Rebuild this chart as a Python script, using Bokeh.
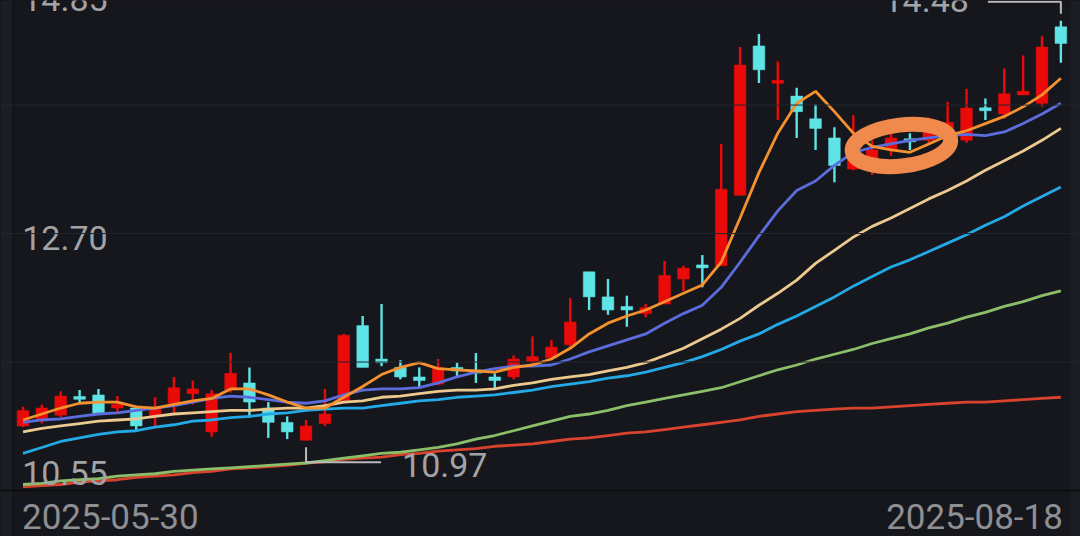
import numpy as np
from bokeh.plotting import figure
from bokeh.models import Range1d, Span, BoxAnnotation, ColumnDataSource, GlobalInlineStyleSheet
from bokeh.core.properties import value
from bokeh.embed import file_html
from bokeh.resources import INLINE

# ---------------- data ----------------
date_labels = ["2025-05-30", "2025-08-18"]

opens = [11.09, 11.14, 11.18, 11.33, 11.35, 11.24, 11.24, 11.17, 11.28, 11.36,
         11.04, 11.39, 11.45, 11.24, 11.12, 10.97, 11.11, 11.30, 11.93, 11.65,
         11.58, 11.50, 11.44, 11.58, 11.55, 11.50, 11.50, 11.63, 11.66, 11.77,
         12.38, 12.17, 12.09, 12.03, 12.11, 12.32, 12.43, 12.43, 13.02, 14.27,
         13.96, 13.85, 13.66, 13.50, 13.24, 13.27, 13.40, 13.49, 13.48, 13.54,
         13.48, 13.75, 13.70, 13.86, 13.79, 14.43]
highs = [11.25, 11.27, 11.38, 11.39, 11.40, 11.34, 11.26, 11.33, 11.50, 11.47,
         11.39, 11.70, 11.58, 11.29, 11.17, 11.14, 11.40, 11.86, 12.01, 12.11,
         11.64, 11.58, 11.65, 11.62, 11.70, 11.53, 11.68, 11.84, 11.81, 12.16,
         12.38, 12.32, 12.18, 12.11, 12.47, 12.43, 12.52, 13.45, 14.26, 14.37,
         14.14, 13.92, 13.78, 13.59, 13.69, 13.48, 13.54, 13.54, 13.67, 13.80,
         13.91, 13.83, 14.08, 14.19, 14.35, 14.48]
lows = [11.08, 11.11, 11.16, 11.28, 11.19, 11.20, 11.05, 11.09, 11.20, 11.27,
        11.00, 11.37, 11.16, 10.99, 10.98, 10.97, 11.09, 11.29, 11.58, 11.59,
        11.48, 11.41, 11.43, 11.50, 11.45, 11.40, 11.48, 11.61, 11.64, 11.75,
        12.06, 12.02, 11.92, 12.00, 12.11, 12.22, 12.25, 12.43, 13.02, 13.96,
        13.65, 13.50, 13.40, 13.13, 13.23, 13.19, 13.35, 13.40, 13.44, 13.52,
        13.46, 13.65, 13.66, 13.86, 13.76, 14.13]
closes = [11.22, 11.24, 11.34, 11.32, 11.19, 11.27, 11.09, 11.24, 11.41, 11.40,
          11.36, 11.53, 11.29, 11.12, 11.04, 11.09, 11.19, 11.85, 11.58, 11.62,
          11.50, 11.47, 11.58, 11.55, 11.54, 11.47, 11.65, 11.67, 11.75, 11.96,
          12.17, 12.06, 12.06, 12.08, 12.35, 12.41, 12.42, 13.07, 14.11, 14.07,
          13.98, 13.72, 13.58, 13.27, 13.44, 13.40, 13.50, 13.47, 13.58, 13.63,
          13.75, 13.73, 13.87, 13.89, 14.26, 14.29]

ma5 = [11.14, 11.19, 11.24, 11.28, 11.29, 11.29, 11.25, 11.24, 11.27, 11.30,
       11.32, 11.40, 11.40, 11.35, 11.29, 11.24, 11.24, 11.33, 11.42, 11.52,
       11.58, 11.62, 11.57, 11.56, 11.55, 11.54, 11.58, 11.60, 11.65, 11.74,
       11.86, 11.95, 12.01, 12.06, 12.13, 12.20, 12.27, 12.46, 12.83, 13.21,
       13.54, 13.79, 13.89, 13.72, 13.54, 13.43, 13.40, 13.38, 13.45, 13.52,
       13.56, 13.62, 13.68, 13.76, 13.86, 14.00]
ma10 = [11.12, 11.14, 11.15, 11.17, 11.19, 11.20, 11.22, 11.24, 11.26, 11.29,
        11.32, 11.34, 11.33, 11.31, 11.29, 11.28, 11.30, 11.35, 11.39, 11.40,
        11.40, 11.41, 11.45, 11.50, 11.54, 11.57, 11.59, 11.59, 11.60, 11.65,
        11.71, 11.76, 11.81, 11.86, 11.95, 12.03, 12.10, 12.25, 12.46, 12.68,
        12.89, 13.06, 13.14, 13.27, 13.38, 13.42, 13.45, 13.48, 13.50, 13.52,
        13.53, 13.52, 13.55, 13.62, 13.70, 13.79]
ma20 = [11.04, 11.07, 11.09, 11.11, 11.13, 11.14, 11.15, 11.17, 11.19, 11.20,
        11.21, 11.22, 11.22, 11.23, 11.24, 11.24, 11.26, 11.29, 11.30, 11.33,
        11.34, 11.36, 11.38, 11.39, 11.39, 11.40, 11.43, 11.45, 11.48, 11.50,
        11.52, 11.55, 11.58, 11.62, 11.68, 11.74, 11.82, 11.90, 11.99, 12.10,
        12.20, 12.31, 12.45, 12.56, 12.67, 12.76, 12.83, 12.91, 12.99, 13.06,
        13.14, 13.23, 13.31, 13.39, 13.48, 13.58]
ma30 = [10.86, 10.91, 10.96, 10.99, 11.02, 11.04, 11.05, 11.08, 11.10, 11.13,
        11.14, 11.16, 11.17, 11.19, 11.20, 11.22, 11.23, 11.24, 11.24, 11.26,
        11.28, 11.30, 11.31, 11.33, 11.34, 11.35, 11.37, 11.39, 11.42, 11.44,
        11.46, 11.49, 11.51, 11.54, 11.58, 11.62, 11.67, 11.73, 11.80, 11.86,
        11.94, 12.01, 12.09, 12.17, 12.26, 12.34, 12.42, 12.48, 12.55, 12.62,
        12.69, 12.77, 12.84, 12.93, 13.01, 13.09]
ma60 = [10.60, 10.61, 10.63, 10.64, 10.65, 10.67, 10.68, 10.69, 10.71, 10.72,
        10.73, 10.74, 10.75, 10.76, 10.77, 10.78, 10.80, 10.82, 10.84, 10.86,
        10.87, 10.89, 10.91, 10.94, 10.98, 11.01, 11.05, 11.09, 11.13, 11.17,
        11.19, 11.22, 11.26, 11.29, 11.32, 11.35, 11.38, 11.41, 11.46, 11.51,
        11.56, 11.60, 11.65, 11.69, 11.73, 11.78, 11.82, 11.86, 11.91, 11.95,
        12.00, 12.04, 12.09, 12.13, 12.18, 12.22]
ma120 = [10.58, 10.59, 10.60, 10.62, 10.63, 10.64, 10.66, 10.67, 10.68, 10.70,
         10.71, 10.73, 10.74, 10.75, 10.76, 10.78, 10.79, 10.81, 10.82, 10.83,
         10.85, 10.86, 10.88, 10.89, 10.90, 10.92, 10.93, 10.94, 10.96, 10.98,
         10.99, 11.01, 11.03, 11.04, 11.06, 11.08, 11.10, 11.12, 11.14, 11.17,
         11.19, 11.21, 11.22, 11.23, 11.24, 11.24, 11.25, 11.26, 11.27, 11.28,
         11.29, 11.29, 11.30, 11.31, 11.32, 11.33]

axis_labels = ["14.85", "12.70", "10.55"]
axis_values = [14.85, 12.70, 10.55]
grid_values = [13.775, 12.70, 11.625]

# ---------------- styling ----------------
BG = "#16171c"
UP = "#ea0a0a"
DOWN = "#5ee3e6"
TEXT = "#a2a3a7"
DATE_TEXT = "#8e8f93"
FONT = value("Roboto")

n = len(closes)
idx = np.arange(n)
o = np.array(opens); c = np.array(closes)
h = np.array(highs); l = np.array(lows)
up = c >= o
colors = [UP if u else DOWN for u in up]
btop = np.maximum(o, c)
bbot = np.minimum(o, c)
mid = (btop + bbot) / 2
thin = (btop - bbot) < 0.025
btop = np.where(thin, mid + 0.0125, btop)
bbot = np.where(thin, mid - 0.0125, bbot)

src = ColumnDataSource(dict(x=idx, high=h, low=l, top=btop, bottom=bbot, color=colors))

# pixel scale of the frame: 18.87 px per candle, 119.5 px per price unit
PX_X = 1 / 18.87
PX_Y = 1 / 119.5

p = figure(width=1080, height=536,
           x_range=Range1d(-1.192, 56.04), y_range=Range1d(10.165, 14.650),
           output_backend="svg", toolbar_location=None,
           x_axis_location=None, y_axis_location=None,
           min_border=0, min_border_left=0, min_border_right=0,
           min_border_top=0, min_border_bottom=0,
           background_fill_color=BG, border_fill_color=BG,
           outline_line_color=None,
           stylesheets=[GlobalInlineStyleSheet(css="body{background:#16171c;}")])
p.xgrid.visible = False
p.ygrid.visible = False

# left and right edge strips
p.add_layout(BoxAnnotation(right=-0.556, fill_color="#1c1e25", fill_alpha=1.0, line_color=None))
p.add_layout(Span(location=-0.53, dimension="height", line_color="#101115", line_width=1))
p.add_layout(BoxAnnotation(left=55.51, fill_color="#1b1d23", fill_alpha=1.0, line_color=None))

for g in grid_values:
    p.add_layout(Span(location=g, dimension="width", line_color="#24252c", line_width=1))
p.add_layout(Span(location=axis_values[2], dimension="width", line_color="#0d0e11", line_width=2))

# candles
p.segment(x0="x", y0="low", x1="x", y1="high", line_color="color", line_width=2.4, source=src)
p.vbar(x="x", width=0.62, top="top", bottom="bottom", fill_color="color",
       line_color="color", line_width=0.5, source=src)

# moving averages
for series, col in [(ma120, "#d9432e"), (ma60, "#8bbf6a"), (ma30, "#23a9e6"),
                    (ma20, "#ebc98f"), (ma10, "#5b6cdc"), (ma5, "#f5922f")]:
    p.line(idx, series, line_color=col, line_width=2.8)

# axis value labels (drawn inside the plot)
label_offsets = [22, 4, -17]
for lab, val, off in zip(axis_labels, axis_values, label_offsets):
    p.text(x=[-0.04], y=[val], text=[lab], text_font=FONT,
           text_font_size="34px", text_color=TEXT, text_align="left",
           text_baseline="middle", y_offset=off)

# date labels
p.text(x=[0], y=[axis_values[2]], text=[date_labels[0]], text_font=FONT,
       text_font_size="35px", text_color=DATE_TEXT, text_align="left",
       text_baseline="middle", x_offset=-1, y_offset=26)
p.text(x=[n - 1], y=[axis_values[2]], text=[date_labels[1]], text_font=FONT,
       text_font_size="35px", text_color=DATE_TEXT, text_align="right",
       text_baseline="middle", x_offset=2, y_offset=26)

# low / high markers
lo_i = int(np.argmin(l)); lo_v = float(l[lo_i])
hi_i = int(np.argmax(h)); hi_v = float(h[hi_i])
MARK = "#b9babd"
lo_y = lo_v - 22 * PX_Y
p.line(x=[lo_i, lo_i, lo_i + 75 * PX_X], y=[lo_v - 7 * PX_Y, lo_y, lo_y],
       line_color=MARK, line_width=2)
p.text(x=[lo_i + 75 * PX_X], y=[lo_y], text=[f"{lo_v:.2f}"], text_font=FONT,
       text_font_size="34px", text_color=TEXT, text_align="left",
       text_baseline="middle", x_offset=21, y_offset=3)
hi_y = hi_v + 19 * PX_Y
p.line(x=[hi_i, hi_i, hi_i - 73 * PX_X], y=[hi_v + 7 * PX_Y, hi_y, hi_y],
       line_color=MARK, line_width=2)
p.text(x=[hi_i - 73 * PX_X], y=[hi_y], text=[f"{hi_v:.2f}"], text_font=FONT,
       text_font_size="34px", text_color=TEXT, text_align="right",
       text_baseline="middle", x_offset=-19, y_offset=-2)

# hand-drawn highlight ring
ring_x = [46.55]
ring_y = [13.437]
p.ellipse(x=ring_x, y=ring_y, width=99, height=41, angle=0.12,
          width_units="screen", height_units="screen",
          fill_alpha=0, line_color="#f0894c", line_width=15)

open("out.html", "w").write(file_html(p, INLINE))
